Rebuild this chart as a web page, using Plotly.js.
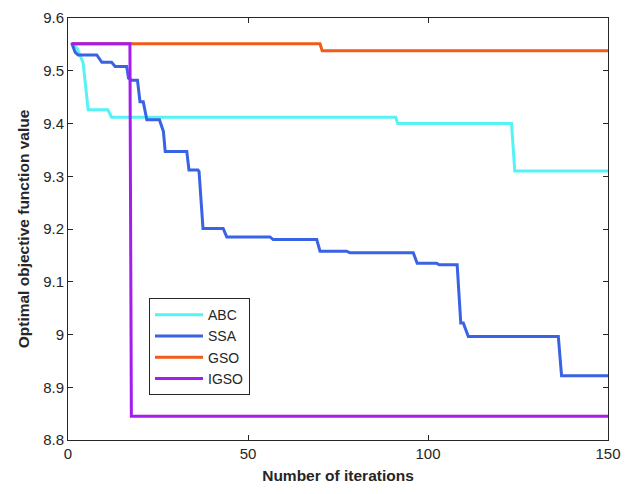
<!DOCTYPE html>
<html>
<head>
<meta charset="utf-8">
<script src="https://cdn.plot.ly/plotly-3.0.1.min.js"></script>
<style>html,body{margin:0;padding:0;background:#fff;}#chart{width:633px;height:494px;}</style>
</head>
<body>
<div id="chart"></div>
<script>
// Vertices of each convergence curve (iteration, best objective value)
const abcIter  = [1, 2.5, 3.3, 4.2, 5.6, 11.1, 12.1, 91, 91.6, 123.2, 124.1, 150];
const abcValue = [9.551, 9.543, 9.530, 9.515, 9.426, 9.426, 9.412, 9.412, 9.400, 9.400, 9.310, 9.310];

const ssaIter  = [1, 2.0, 2.8, 8.0, 9.4, 12.1, 13.1, 16.3, 16.8, 17.7, 19.3, 20.0, 20.9, 21.9, 25.4, 26.5, 27.0, 33.0, 33.6, 36.1, 36.4, 37.5, 43.1, 44.1, 56.1, 57.0, 69.1, 70.0, 77.4, 78.3, 95.9, 97.0, 102.4, 103.1, 108.1, 109.1, 109.8, 111.2, 136.2, 137.1, 150];
const ssaValue = [9.553, 9.535, 9.530, 9.530, 9.516, 9.516, 9.508, 9.508, 9.486, 9.482, 9.482, 9.441, 9.441, 9.407, 9.407, 9.385, 9.347, 9.347, 9.312, 9.312, 9.309, 9.201, 9.201, 9.185, 9.185, 9.180, 9.180, 9.158, 9.158, 9.155, 9.155, 9.135, 9.135, 9.132, 9.132, 9.022, 9.022, 8.996, 8.996, 8.922, 8.922];

const gsoIter  = [1, 70, 70.6, 150];
const gsoValue = [9.551, 9.551, 9.538, 9.538];

const igsoIter  = [1, 17.2, 17.6, 150];
const igsoValue = [9.551, 9.551, 8.845, 8.845];

const seriesNames = ["ABC", "SSA", "GSO", "IGSO"];
const seriesColors = ["#55F2F6", "#3A62E4", "#F25A19", "#A41CF0"];

const xTicks = [0, 50, 100, 150];
const yTicks = [8.8, 8.9, 9, 9.1, 9.2, 9.3, 9.4, 9.5, 9.6];

const xs = [abcIter, ssaIter, gsoIter, igsoIter];
const ys = [abcValue, ssaValue, gsoValue, igsoValue];

const traces = seriesNames.map((n, i) => ({
  x: xs[i], y: ys[i], name: n, type: "scatter", mode: "lines",
  line: {color: seriesColors[i], width: 3}
}));

const axisCommon = {
  showgrid: false, zeroline: false, showline: true, mirror: "ticks",
  linecolor: "#262626", linewidth: 1, ticks: "inside", ticklen: 5,
  tickcolor: "#262626", tickfont: {family: "Liberation Sans, Arial, sans-serif", size: 15, color: "#262626"}
};

const layout = {
  width: 633, height: 494,
  margin: {l: 68, r: 25, t: 18, b: 54},
  paper_bgcolor: "#fff", plot_bgcolor: "#fff",
  font: {family: "Liberation Sans, Arial, sans-serif", color: "#262626"},
  xaxis: Object.assign({}, axisCommon, {
    range: [0, 150], tickvals: xTicks,
    title: {text: "<b>Number of iterations</b>", font: {size: 15.5, color: "#262626"}, standoff: 9}
  }),
  yaxis: Object.assign({}, axisCommon, {
    range: [8.8, 9.6], tickvals: yTicks,
    title: {text: "<b>Optimal objective function value</b>", font: {size: 15.5, color: "#262626"}, standoff: 9}
  }),
  showlegend: true,
  legend: {
    x: 0.15, y: 0.336, xanchor: "left", yanchor: "top",
    bgcolor: "#fff", bordercolor: "#262626", borderwidth: 1,
    font: {size: 14, color: "#262626"}, itemwidth: 48, tracegroupgap: 0
  }
};

Plotly.newPlot("chart", traces, layout, {staticPlot: true, displayModeBar: false});
</script>
</body>
</html>
